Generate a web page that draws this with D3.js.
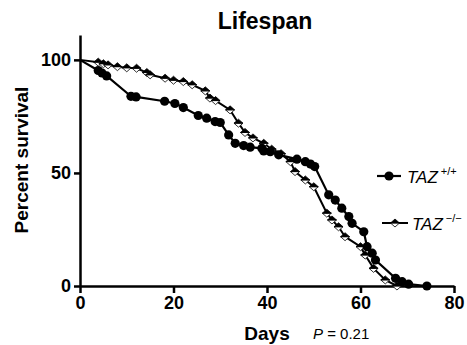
<!DOCTYPE html>
<html>
<head>
<meta charset="utf-8">
<script src="https://cdn.jsdelivr.net/npm/d3@7"></script>
<style>
  body { margin: 0; background: #fff; }
  svg { display: block; font-family: "Liberation Sans", Arial, sans-serif; }
</style>
</head>
<body>
<svg id="chart" width="467" height="345"></svg>
<script>
// survival curves
const wtDays = [0, 3.9, 4.7, 5.7, 10.9, 12, 18.1, 20.3, 22.1, 25.3, 27.1, 28.9, 30, 31.8, 33.2, 35, 36.4, 38.9, 39.3, 40.7, 42.5, 46.4, 48.2, 49.3, 50.2, 53.2, 54.6, 56, 57.5, 58.2, 60.7, 61.4, 62.5, 63.2, 67.5, 68.9, 70.3, 74.2];
const wtPct  = [100, 95.3, 94.2, 92.9, 83.9, 83.6, 81.7, 80.7, 78.9, 75.4, 74.2, 72.7, 72.3, 66.8, 63.1, 62.1, 61.4, 60.9, 59.7, 59.4, 58, 56.1, 55, 53.9, 52.8, 40.3, 38, 34.4, 30.7, 27.7, 24, 17.4, 14.5, 11.5, 3.4, 1.9, 0.8, 0];

const koDays = [0, 3.9, 5, 6, 8, 10, 12.1, 14.3, 15, 18.2, 20, 22.1, 24, 26.8, 27.8, 29, 32.1, 33.9, 35.3, 37, 39.3, 41, 43, 45, 46, 48.2, 50, 52.8, 53.9, 55.3, 56.7, 60, 61, 62.8, 65.3, 67.8];
const koPct  = [100, 99, 98.3, 97.8, 97, 96.5, 96.3, 94.4, 93.4, 91.9, 91, 90.4, 89, 86.3, 83.1, 82, 77.9, 72, 67.9, 65.5, 63.1, 60.5, 58.5, 55, 50.6, 46.9, 43.9, 32.2, 29.2, 26.2, 21.8, 17.4, 13.7, 7.8, 2.7, 0];

const xTicks = [0, 20, 40, 60, 80];
const yTicks = [0, 50, 100];

const svg = d3.select("#chart");

const x = d3.scaleLinear().domain([0, 80]).range([80, 454]);
// axis runs a little above 100
const y = d3.scaleLinear().domain([0, 111]).range([286, 35]);

const wt = wtDays.map((d, i) => ({ day: d, pct: wtPct[i] }));
const ko = koDays.map((d, i) => ({ day: d, pct: koPct[i] }));

// title
svg.append("text")
  .attr("x", 265).attr("y", 29)
  .attr("text-anchor", "middle")
  .style("font-size", "23px").style("font-weight", "bold")
  .text("Lifespan");

// axes
const xAxis = svg.append("g")
  .attr("transform", "translate(0," + y(0) + ")")
  .call(d3.axisBottom(x).tickValues(xTicks).tickSize(7).tickSizeOuter(0).tickPadding(3));

const yAxis = svg.append("g")
  .attr("transform", "translate(" + x(0) + ",0)")
  .call(d3.axisLeft(y).tickValues(yTicks).tickSize(6).tickSizeOuter(0).tickPadding(3));

[xAxis, yAxis].forEach(g => {
  g.select(".domain").attr("stroke", "#000").attr("stroke-width", 2.5);
  g.selectAll(".tick line").attr("stroke", "#000").attr("stroke-width", 2.5);
  g.selectAll(".tick text")
    .attr("fill", "#000")
    .style("font-size", "18px").style("font-weight", "bold")
    .style("font-family", "'Liberation Sans', Arial, sans-serif");
});

// axis titles
svg.append("text")
  .attr("x", 267).attr("y", 340)
  .attr("text-anchor", "middle")
  .style("font-size", "19px").style("font-weight", "bold")
  .text("Days");

const pText = svg.append("text")
  .attr("x", 313).attr("y", 339)
  .style("font-size", "15px");
pText.append("tspan").style("font-style", "italic").text("P");
pText.append("tspan").text(" = 0.21");

svg.append("text")
  .attr("transform", "translate(28,160) rotate(-90)")
  .attr("text-anchor", "middle")
  .style("font-size", "19px").style("font-weight", "bold")
  .text("Percent survival");

const line = d3.line().x(d => x(d.day)).y(d => y(d.pct));

// diamond with top half filled
function diamond(cx, cy) {
  const w = 4.5, h = 4;
  return {
    top: "M" + (cx - w) + "," + cy + "L" + cx + "," + (cy - h) + "L" + (cx + w) + "," + cy + "Z",
    bottom: "M" + (cx - w) + "," + cy + "L" + cx + "," + (cy + h) + "L" + (cx + w) + "," + cy + "Z"
  };
}

function drawDiamonds(g, pts) {
  pts.forEach(p => {
    const dm = diamond(p[0], p[1]);
    g.append("path").attr("d", dm.bottom).attr("fill", "#fff").attr("stroke", "#000").attr("stroke-width", 0.8);
    g.append("path").attr("d", dm.top).attr("fill", "#000").attr("stroke", "#000").attr("stroke-width", 0.8);
  });
}

// TAZ -/- series
svg.append("path").datum(ko)
  .attr("d", line)
  .attr("fill", "none").attr("stroke", "#000").attr("stroke-width", 2);
drawDiamonds(svg.append("g"), ko.slice(1).map(d => [x(d.day), y(d.pct)]));

// TAZ +/+ series
svg.append("path").datum(wt)
  .attr("d", line)
  .attr("fill", "none").attr("stroke", "#000").attr("stroke-width", 2.2);
svg.append("g").selectAll("circle")
  .data(wt.slice(1))
  .enter()
  .append("circle")
  .attr("cx", d => x(d.day))
  .attr("cy", d => y(d.pct))
  .attr("r", 4.6)
  .attr("fill", "#000");

// legend
const leg1 = svg.append("g");
leg1.append("line").attr("x1", 377).attr("x2", 401).attr("y1", 176).attr("y2", 176)
  .attr("stroke", "#000").attr("stroke-width", 2.2);
leg1.append("circle").attr("cx", 389).attr("cy", 176).attr("r", 4.6).attr("fill", "#000");
const t1 = leg1.append("text").attr("x", 407).attr("y", 183).style("font-size", "17px");
t1.append("tspan").style("font-style", "italic").text("TAZ");
t1.append("tspan").attr("dx", 3).attr("dy", -8).style("font-size", "11px").text("+/+");

const leg2 = svg.append("g");
leg2.append("line").attr("x1", 382).attr("x2", 408).attr("y1", 223).attr("y2", 223)
  .attr("stroke", "#000").attr("stroke-width", 2);
drawDiamonds(leg2, [[395, 223]]);
const t2 = leg2.append("text").attr("x", 412).attr("y", 230).style("font-size", "17px");
t2.append("tspan").style("font-style", "italic").text("TAZ");
t2.append("tspan").attr("dx", 3).attr("dy", -8).style("font-size", "11px").text("\u2212/\u2212");
</script>
</body>
</html>
